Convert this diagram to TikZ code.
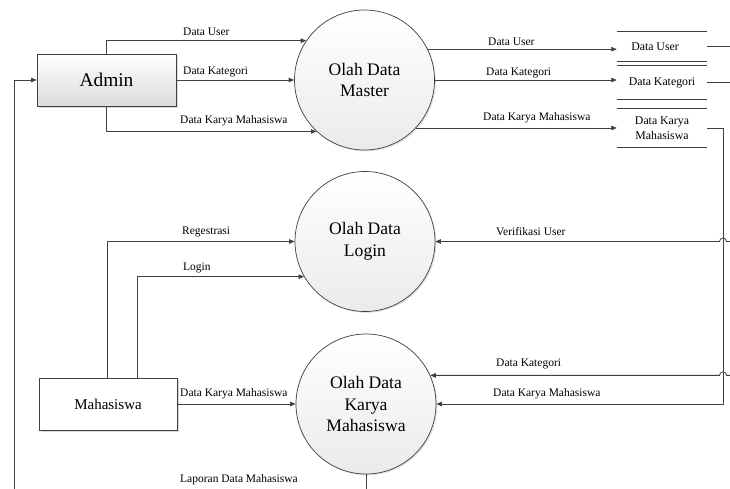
\documentclass[tikz,border=0pt]{standalone}
\usepackage{fontspec}
\IfFontExistsTF{LiberationSerif-Regular.ttf}
  {\setmainfont{LiberationSerif-Regular.ttf}}
  {\setmainfont{Liberation Serif}}
\usetikzlibrary{arrows.meta,shadows,calc}
\definecolor{ln}{HTML}{404040}
\begin{document}
\begin{tikzpicture}[x=1pt,y=-1pt,
  flow/.style={draw=ln, line width=0.8pt, -{Triangle[length=5.5pt,width=4.5pt]}},
  proc/.style={circle, draw=ln, line width=0.7pt, minimum size=140pt, inner sep=0pt, align=center,
    top color=white, bottom color=gray!16, font=\fontsize{17.6}{21.5}\selectfont,
    drop shadow={opacity=0.25,shadow xshift=1.3pt,shadow yshift=-1.3pt}},
  ent/.style={rectangle, draw=ln, line width=0.7pt,
    drop shadow={opacity=0.3,shadow xshift=1.5pt,shadow yshift=-1.5pt}},
  store/.style={inner sep=0pt, align=center, font=\fontsize{11.8}{15.5}\selectfont, minimum width=90pt},
  stline/.style={draw=ln, line width=0.8pt},
  lbl/.style={anchor=west, inner sep=0pt, font=\fontsize{11.5}{13}\selectfont}
]
\useasboundingbox (0,0) rectangle (730,488);
\clip (0,0) rectangle (730,488);

% entities
\node[ent, minimum width=139pt, minimum height=52pt, top color=white, bottom color=gray!28,
  font=\fontsize{19.4}{22}\selectfont] (admin) at (106.5,80) {Admin};
\node[ent, minimum width=138pt, minimum height=52pt, fill=white,
  font=\fontsize{15}{18}\selectfont] (mhs) at (108,404) {Mahasiswa};

% processes
\node[proc] (master) at (364.5,80) {Olah Data\\Master};
\node[proc] (login) at (365,241.5) {Olah Data\\Login};
\node[proc] (karya) at (366,404) {Olah Data\\Karya\\Mahasiswa};

% data stores
\node[store, minimum height=29pt] (du) at (662,46.5) {Data User\hspace{14pt}};
\node[store, minimum height=33pt] (dk) at (662,82.5) {Data Kategori};
\node[store, minimum height=38pt] (dkm) at (662,128) {Data Karya\\Mahasiswa};
\draw[stline] (du.north west) -- (du.north east);
\draw[stline] (du.south west) -- (du.south east);
\draw[stline] (dk.north west) -- (dk.north east);
\draw[stline] (dk.south west) -- (dk.south east);
\draw[stline] (dkm.north west) -- (dkm.north east);
\draw[stline] (dkm.south west) -- (dkm.south east);

% helper coordinates
\coordinate (rk) at (723,128);
\coordinate (hop1) at (login.east -| rk);
\coordinate (hop2) at (karya.24 -| rk);
\coordinate (lp) at (14,520);

% admin -> master
\draw[flow] (admin.north) |- (master.146);
\draw[flow] (admin.east) -- (master.west);
\draw[flow] (admin.south) |- (master.227);

% master -> stores
\draw[flow] (master.26) -- (master.26 -| du.west);
\draw[flow] (master.east) -- (master.east -| dk.west);
\draw[flow] (master.-43) -- (master.-43 -| dkm.west);

% stores -> processes
\draw[flow] (du.east) -- ++(40,0) |- ([xshift=3.5pt]hop1) arc[start angle=0,end angle=-180,radius=3.5] -- (login.east);
\draw[flow] (dk.east) -- ++(30,0) |- ([xshift=3.5pt]hop2) arc[start angle=0,end angle=-180,radius=3.5] -- (karya.24);
\draw[flow] (dkm.east) -- (rk) |- (karya.east);

% mahasiswa
\draw[flow] ([xshift=-1pt]mhs.north) |- (login.west);
\draw[flow] ([xshift=29pt]mhs.north) |- (login.210);
\draw[flow] (mhs.east) -- (karya.west);

% laporan
\draw[flow] (karya.south) |- (lp) |- (admin.west);

% labels
\node[lbl] (l1) at (183,32) {Data User};
\node[lbl] (l2) at (183,72) {Data Kategori};
\node[lbl] (l3) at (180,121) {Data Karya Mahasiswa};
\node[lbl] (l4) at (488,42) {Data User};
\node[lbl] (l5) at (486,73) {Data Kategori};
\node[lbl] (l6) at (483,118) {Data Karya Mahasiswa};
\node[lbl] (l7) at (496,232) {Verifikasi User};
\node[lbl] (l8) at (182,232) {Regestrasi};
\node[lbl] (l9) at (183,268) {Login};
\node[lbl] (l10) at (496,364) {Data Kategori};
\node[lbl] (l11) at (493,394) {Data Karya Mahasiswa};
\node[lbl] (l12) at (180,394) {Data Karya Mahasiswa};
\node[lbl] (l13) at (180,480) {Laporan Data Mahasiswa};
\end{tikzpicture}
\end{document}
